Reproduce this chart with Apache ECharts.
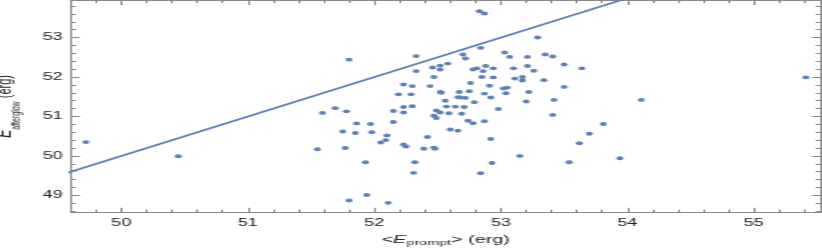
<!DOCTYPE html>
<html>
<head>
<meta charset="utf-8">
<script src="https://cdn.jsdelivr.net/npm/echarts@6/dist/echarts.min.js"></script>
<style>
html,body{margin:0;padding:0;background:#fff;overflow:hidden;}
#c{width:457px;height:249px;transform:scaleX(1.7987);transform-origin:0 0;}
</style>
</head>
<body>
<div id="c"></div>
<script>
// E_prompt (x) and E_afterglow (y), log10 erg
var xVals = [52.83,52.87,53.29,52.84,51.80,52.33,52.70,52.72,53.03,53.07,
53.21,53.35,52.33,52.46,52.52,52.52,52.58,52.78,52.81,52.86,
52.88,52.94,53.10,53.21,53.26,52.47,52.85,52.94,53.11,53.17,
53.17,53.34,52.23,52.30,52.44,52.76,52.91,53.02,53.05,52.19,
52.29,52.52,52.53,52.67,52.75,52.87,53.04,53.22,52.66,52.68,
52.72,52.92,52.56,52.79,53.20,52.23,52.30,52.57,52.64,52.71,
52.98,51.69,51.59,51.78,52.15,52.23,52.49,52.52,52.59,52.69,
52.47,52.49,52.15,51.86,51.97,52.74,52.78,52.87,51.75,51.85,
51.98,52.10,52.60,52.66,52.42,52.09,52.05,52.23,52.25,52.92,
51.55,51.77,52.39,52.47,52.48,51.93,52.32,52.93,53.15,52.31,
52.84,51.94,51.80,52.11,53.41,53.50,53.64,53.50,53.42,54.11,
53.41,53.81,53.70,53.62,53.54,53.94,55.41,49.72,50.45];
var yVals = [53.67,53.61,53.00,52.74,52.44,52.53,52.57,52.47,52.62,52.51,
52.51,52.57,52.15,52.24,52.29,52.19,52.34,52.19,52.22,52.15,
52.28,52.22,52.22,52.28,52.16,52.00,52.00,51.99,51.96,52.00,
51.91,51.92,51.81,51.77,51.77,51.85,51.78,51.71,51.73,51.56,
51.56,51.62,51.60,51.62,51.64,51.58,51.59,51.62,51.49,51.48,
51.47,51.48,51.40,51.36,51.38,51.24,51.26,51.25,51.25,51.24,
51.19,51.21,51.09,51.13,51.14,51.10,51.15,51.10,51.08,51.07,
51.02,50.96,50.86,50.82,50.81,50.89,50.83,50.88,50.62,50.58,
50.60,50.52,50.67,50.64,50.48,50.40,50.34,50.29,50.24,50.43,
50.17,50.20,50.18,50.21,50.18,49.84,49.84,49.82,50.00,49.57,
49.56,49.01,48.87,48.81,52.52,52.32,52.22,51.75,51.42,51.42,
51.04,50.81,50.56,50.32,49.84,49.94,51.99,50.35,49.99];
// equality line y = x
var lineX = [49, 56];
var lineY = [49, 56];
// ticks
var xMajor = [50, 51, 52, 53, 54, 55];
var xMinor = [49.6,49.8,50.2,50.4,50.6,50.8,51.2,51.4,51.6,51.8,52.2,52.4,52.6,52.8,53.2,53.4,53.6,53.8,54.2,54.4,54.6,54.8,55.2,55.4];
var yMajor = [49, 50, 51, 52, 53];
var yMinor = [48.6,48.8,49.2,49.4,49.6,49.8,50.2,50.4,50.6,50.8,51.2,51.4,51.6,51.8,52.2,52.4,52.6,52.8,53.2,53.4,53.6,53.8];
var xMin = 49.6, xMax = 55.53, yMin = 48.57, yMax = 53.94;

var FONT = 'Liberation Sans';
var AX = '#8a8a8a';
var TXT = '#222';
var BLUE = '#5E81B5';

function xa(pos, ticks, len, main) {
  return {
    type: 'value', position: pos, min: xMin, max: xMax, offset: 0,
    splitLine: {show: false},
    axisLine: {show: main, onZero: false, lineStyle: {color: AX, width: 1}},
    axisTick: {show: true, inside: true, length: len, customValues: ticks, lineStyle: {color: AX, width: 1}},
    axisLabel: {show: false}
  };
}
function ya(pos, ticks, len, main) {
  return {
    type: 'value', position: pos, min: yMin, max: yMax, offset: 0,
    splitLine: {show: false},
    axisLine: {show: main, onZero: false, lineStyle: {color: AX, width: 1}},
    axisTick: {show: true, inside: true, length: len, customValues: ticks, lineStyle: {color: AX, width: 1}},
    axisLabel: {show: false}
  };
}

var x0 = xa('bottom', xMajor, 4.5, true);
x0.axisLabel = {show: true, customValues: xMajor, margin: 6, color: TXT, fontFamily: FONT, fontSize: 10};
x0.name = '<{i|E}{s|prompt}> (erg)';
x0.nameLocation = 'middle';
x0.nameGap = 21;
x0.nameTextStyle = {color: TXT, fontFamily: FONT, fontSize: 11, lineHeight: 13,
  rich: {i: {fontStyle: 'italic', fontFamily: FONT, fontSize: 11, color: TXT, lineHeight: 13},
         s: {fontFamily: FONT, fontSize: 8, color: TXT, verticalAlign: 'bottom', lineHeight: 13}}};
var y0 = ya('left', yMajor, 5, true);
y0.axisLabel = {show: true, customValues: yMajor, margin: 4.5, color: TXT, fontFamily: FONT, fontSize: 10};
y0.name = '{i|E}{s|afterglow} (erg)';
y0.nameLocation = 'middle';
y0.nameRotate = 90;
y0.nameGap = 25;
y0.nameTextStyle = {color: TXT, fontFamily: FONT, fontSize: 11, lineHeight: 14,
  rich: {i: {fontStyle: 'italic', fontFamily: FONT, fontSize: 12, color: TXT, lineHeight: 14},
         s: {fontFamily: FONT, fontSize: 7, color: TXT, verticalAlign: 'bottom', lineHeight: 14, padding: [0,0,-3,0]}}};

var option = {
  animation: false,
  backgroundColor: '#fff',
  grid: {left: 39.3, right: 0.6, top: 0.5, bottom: 36.7, containLabel: false, outerBoundsMode: 'none'},
  xAxis: [x0, xa('bottom', xMinor, 2.7, false), xa('top', xMajor, 4.5, true), xa('top', xMinor, 2.7, false)],
  yAxis: [y0, ya('left', yMinor, 2.9, false), ya('right', yMajor, 5, true), ya('right', yMinor, 2.9, false)],
  series: [
    {
      type: 'line', xAxisIndex: 0, yAxisIndex: 0, clip: true,
      data: lineX.map(function (v, i) { return [v, lineY[i]]; }),
      symbol: 'none', lineStyle: {color: BLUE, width: 1.7}, z: 2
    },
    {
      type: 'scatter', xAxisIndex: 0, yAxisIndex: 0, clip: true,
      data: xVals.map(function (v, i) { return [v, yVals[i]]; }),
      symbol: 'circle', symbolSize: 3.9,
      itemStyle: {color: BLUE, opacity: 1}, z: 3
    }
  ]
};
var chart = echarts.init(document.getElementById('c'), null, {renderer: 'canvas'});
chart.setOption(option);
</script>
</body>
</html>
